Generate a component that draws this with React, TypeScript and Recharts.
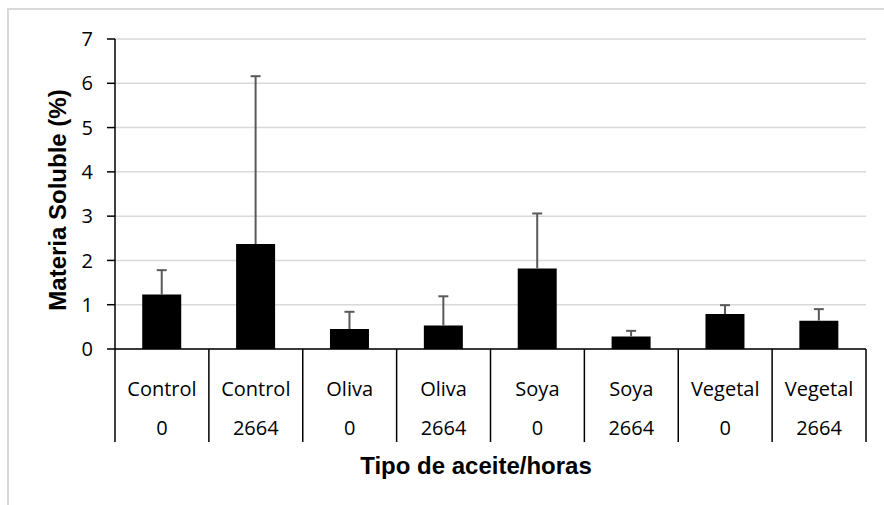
import React from "react";
import { BarChart, Bar, XAxis, YAxis, CartesianGrid, ErrorBar } from "recharts";

const oilTypes = ["Control", "Control", "Oliva", "Oliva", "Soya", "Soya", "Vegetal", "Vegetal"];
const hours = ["0", "2664", "0", "2664", "0", "2664", "0", "2664"];
const means = [1.23, 2.37, 0.45, 0.53, 1.82, 0.28, 0.79, 0.64];
const upperErr = [0.55, 3.79, 0.39, 0.66, 1.24, 0.13, 0.2, 0.26];
const yTicks = [0, 1, 2, 3, 4, 5, 6, 7];

const data = oilTypes.map((oil, i) => ({
  key: `${oil} ${hours[i]}`,
  value: means[i],
  err: [0, upperErr[i]],
}));

const tickFont = "'Open Sans', sans-serif";
const titleFont = "'Liberation Sans', Arial, sans-serif";

function TwoRowTick(props: any) {
  const { x, y, index, payload, visibleTicksCount } = props;
  const half = payload?.offset ?? 47;
  const rowH = 93;
  const last = index === (visibleTicksCount ?? oilTypes.length) - 1;
  return (
    <g>
      <text x={x} y={y + 39} textAnchor="middle" dominantBaseline="central"
        fontFamily={tickFont} fontSize={20} fill="#000">
        {oilTypes[index]}
      </text>
      <text x={x} y={y + 78} textAnchor="middle" dominantBaseline="central"
        fontFamily={tickFont} fontSize={20} fill="#000">
        {hours[index]}
      </text>
      <line x1={x - half} x2={x - half} y1={y} y2={y + rowH} stroke="#000" strokeWidth={1.5} />
      {last && (
        <line x1={x + half} x2={x + half} y1={y} y2={y + rowH} stroke="#000" strokeWidth={1.5} />
      )}
    </g>
  );
}

export default function App() {
  return (
    <div style={{ position: "relative", width: 884, height: 505, background: "#fff" }}>
      <style>{`body{margin:0} .recharts-errorBar line:nth-of-type(3){display:none}`}</style>
      <div
        style={{
          position: "absolute",
          left: 7,
          top: 8,
          right: 0,
          bottom: 0,
          borderLeft: "2px solid #d9d9d9",
          borderTop: "2px solid #d9d9d9",
        }}
      />
      <BarChart
        width={884}
        height={505}
        data={data}
        margin={{ top: 39, right: 18, left: 0, bottom: 63 }}
        barCategoryGap="29%"
      >
        <CartesianGrid vertical={false} stroke="#d9d9d9" strokeWidth={1.5} />
        <XAxis
          dataKey="key"
          interval={0}
          height={93}
          tickSize={0}
          tickMargin={0}
          tickLine={false}
          axisLine={{ stroke: "#000", strokeWidth: 1.5 }}
          tick={<TwoRowTick />}
        />
        <YAxis
          width={115}
          domain={[0, 7]}
          ticks={yTicks}
          interval={0}
          tickSize={8}
          tickMargin={14}
          tickLine={{ stroke: "#000", strokeWidth: 1.5 }}
          axisLine={{ stroke: "#000", strokeWidth: 1.5 }}
          tick={{ fill: "#000", fontSize: 20, fontFamily: tickFont }}
        />
        <Bar dataKey="value" fill="#000" isAnimationActive={false}>
          <ErrorBar dataKey="err" width={5} stroke="#595959" strokeWidth={2} />
        </Bar>
      </BarChart>
      <div
        style={{
          position: "absolute",
          left: 476,
          top: 466,
          transform: "translate(-50%, -50%)",
          fontFamily: titleFont,
          fontWeight: "bold",
          fontSize: 24,
          whiteSpace: "nowrap",
        }}
      >
        Tipo de aceite/horas
      </div>
      <div
        style={{
          position: "absolute",
          left: 58,
          top: 200,
          transform: "translate(-50%, -50%) rotate(-90deg)",
          fontFamily: titleFont,
          fontWeight: "bold",
          fontSize: 24,
          whiteSpace: "nowrap",
        }}
      >
        Materia Soluble (%)
      </div>
    </div>
  );
}
